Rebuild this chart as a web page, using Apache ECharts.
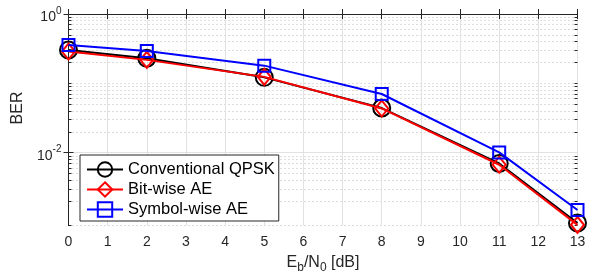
<!DOCTYPE html>
<html>
<head>
<meta charset="utf-8">
<script src="https://cdn.jsdelivr.net/npm/echarts@6/dist/echarts.min.js"></script>
<style>
  html, body { margin: 0; padding: 0; background: #fff; }
  #chart { width: 603px; height: 280px; }
</style>
</head>
<body>
<div id="chart"></div>
<script>
// Eb/N0 points (dB)
const snr = [0, 2, 5, 8, 11, 13];
// BER values
const berConv = [0.303, 0.230, 0.122, 0.0440, 0.0070, 0.00097];
const berBit  = [0.288, 0.218, 0.124, 0.0435, 0.0067, 0.00091];
const berSym  = [0.357, 0.293, 0.180, 0.0702, 0.0101, 0.00149];

const xTicks = [0, 1, 2, 3, 4, 5, 6, 7, 8, 9, 10, 11, 12, 13];
const yMajorExp = [-2, 0];   // labelled decades (10^-2, 10^0)

// axis range in log10 units
const yMin = -3.05, yMax = 0;

// minor log grid positions: k * 10^n, plus the unlabelled 10^-1 decade
const yMinor = [-1];
for (let n = -4; n <= -1; n++) {
  for (let k = 2; k <= 9; k++) {
    const v = n + Math.log10(k);
    if (v > yMin && v < yMax) yMinor.push(v);
  }
}

const font = '"Liberation Sans", Arial, Helvetica, sans-serif';
const axisColor = '#262626';
const rect = { left: 68.5, right: 25.5, top: 14, bottom: 54.5 };

const toPts = (arr) => snr.map((x, i) => [x, Math.log10(arr[i])]);

const chart = echarts.init(document.getElementById('chart'));

const majorTick = { show: true, inside: true, length: 5, lineStyle: { color: axisColor, width: 1 } };
const minorTick = { show: true, inside: true, length: 3, customValues: yMinor, lineStyle: { color: axisColor, width: 1 } };

chart.setOption({
  animation: false,
  grid: [
    Object.assign({}, rect),
    Object.assign({}, rect)
  ],
  xAxis: [
    {
      type: 'value', gridIndex: 0, position: 'bottom', min: 0, max: 13,
      axisLine: { show: true, lineStyle: { color: axisColor, width: 1 } },
      axisTick: Object.assign({ customValues: xTicks }, majorTick),
      axisLabel: {
        customValues: xTicks, margin: 10,
        fontFamily: font, fontSize: 14, color: axisColor
      },
      splitLine: { show: true, lineStyle: { color: '#e2e2e2', width: 1 } },
      name: '{n|E}{sub|b}{n|/N}{sub|0}{n| [dB]}',
      nameLocation: 'middle', nameGap: 24,
      nameTextStyle: {
        rich: {
          n: { fontFamily: font, fontSize: 16, color: axisColor },
          sub: { fontFamily: font, fontSize: 12, color: axisColor, padding: [10, 0, 0, 0] }
        }
      }
    },
    {
      type: 'value', gridIndex: 0, position: 'top', min: 0, max: 13,
      axisLine: { show: true, lineStyle: { color: axisColor, width: 1 } },
      axisTick: Object.assign({ customValues: xTicks }, majorTick),
      axisLabel: { show: false },
      splitLine: { show: false }
    },
    {
      type: 'value', gridIndex: 1, min: 0, max: 13, show: false
    }
  ],
  yAxis: [
    {
      type: 'value', gridIndex: 0, position: 'left', min: yMin, max: yMax,
      axisLine: { show: true, lineStyle: { color: axisColor, width: 1 } },
      axisTick: Object.assign({ customValues: yMajorExp }, majorTick),
      axisLabel: {
        customValues: yMajorExp, margin: 7,
        formatter: (v) => '{b|10}{s|' + Math.round(v) + '}',
        rich: {
          b: { fontFamily: font, fontSize: 14, color: axisColor, padding: [6, 0, 0, 0] },
          s: { fontFamily: font, fontSize: 10, color: axisColor, padding: [0, 0, 6, 0] }
        }
      },
      splitLine: { show: true, lineStyle: { color: '#e2e2e2', width: 1 } }
    },
    {
      type: 'value', gridIndex: 0, position: 'right', min: yMin, max: yMax,
      axisLine: { show: true, lineStyle: { color: axisColor, width: 1 } },
      axisTick: Object.assign({ customValues: yMajorExp }, majorTick),
      axisLabel: { show: false },
      splitLine: { show: false }
    },
    {
      type: 'value', gridIndex: 1, position: 'left', min: yMin, max: yMax,
      axisLine: { show: false },
      axisTick: minorTick,
      axisLabel: { show: false },
      splitLine: { show: true, lineStyle: { color: '#b8b8b8', width: 1, type: [1, 3] } }
    },
    {
      type: 'value', gridIndex: 1, position: 'right', min: yMin, max: yMax,
      axisLine: { show: false },
      axisTick: minorTick,
      axisLabel: { show: false },
      splitLine: { show: false }
    }
  ],
  legend: {
    orient: 'vertical', left: 80, top: 155,
    padding: [6, 4, 3, 6], itemGap: 3, itemWidth: 36, itemHeight: 18,
    backgroundColor: '#fff', borderColor: axisColor, borderWidth: 1,
    selectedMode: false,
    textStyle: { fontFamily: font, fontSize: 16.5, color: '#000' },
    data: ['Conventional QPSK', 'Bit-wise AE', 'Symbol-wise AE']
  },
  graphic: [
    {
      type: 'text', x: 18, y: 108, rotation: Math.PI / 2,
      style: { text: 'BER', font: '16px ' + font, fill: axisColor, align: 'center', verticalAlign: 'middle' }
    }
  ],
  series: [
    {
      name: 'Conventional QPSK', type: 'line', xAxisIndex: 0, yAxisIndex: 0,
      data: toPts(berConv), symbol: 'circle', symbolSize: 17,
      lineStyle: { color: '#000', width: 2 },
      itemStyle: { color: 'rgba(0,0,0,0)', borderColor: '#000', borderWidth: 2 },
      emphasis: { disabled: true }, z: 3
    },
    {
      name: 'Bit-wise AE', type: 'line', xAxisIndex: 0, yAxisIndex: 0,
      data: toPts(berBit), symbol: 'diamond', symbolSize: [13, 16],
      lineStyle: { color: '#ff0000', width: 2 },
      itemStyle: { color: 'rgba(0,0,0,0)', borderColor: '#ff0000', borderWidth: 2 },
      emphasis: { disabled: true }, z: 4
    },
    {
      name: 'Symbol-wise AE', type: 'line', xAxisIndex: 0, yAxisIndex: 0,
      data: toPts(berSym), symbol: 'rect', symbolSize: 12,
      lineStyle: { color: '#0000ff', width: 2 },
      itemStyle: { color: 'rgba(0,0,0,0)', borderColor: '#0000ff', borderWidth: 2 },
      emphasis: { disabled: true }, z: 5
    }
  ]
});
</script>
</body>
</html>
